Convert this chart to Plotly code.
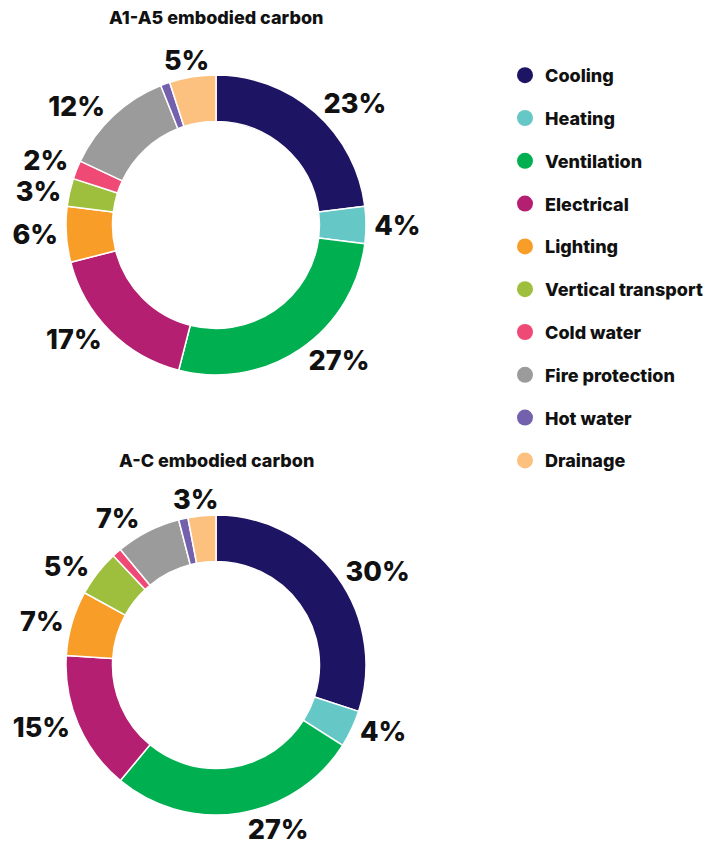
import plotly.graph_objects as go

categories = ["Cooling", "Heating", "Ventilation", "Electrical", "Lighting",
              "Vertical transport", "Cold water", "Fire protection", "Hot water", "Drainage"]
colors = ["#1d1464", "#66c8c6", "#00b050", "#b41f72", "#f89e28",
          "#9dbf3d", "#ef4a75", "#9b9b9b", "#7461ad", "#fdc17f"]
a1a5_values = [23, 4, 27, 17, 6, 3, 2, 12, 1, 5]
ac_values = [30, 4, 27, 15, 7, 5, 1, 7, 1, 3]
titles = ["A1-A5 embodied carbon", "A-C embodied carbon"]
# labels are split over text layers so neighbouring small labels are not pushed apart
label_layer = [0, 1, 0, 1, 0, 1, 2, 1, 1, 3]
layer_shift = {0: (0, 0), 1: (0, 0), 2: (0, -7), 3: (25, 0)}   # px nudges of each text layer

W, H = 710, 845   # page body has an 8px margin
OFF = 8
FONT = "Inter"

fig = go.Figure()

def domain(cx, cy, r):
    return dict(x=[(cx - r) / W, (cx + r) / W], y=[1 - (cy + r) / H, 1 - (cy - r) / H])

def add_pie(vals, cx, cy, r):
    cx -= OFF
    cy -= OFF
    fig.add_trace(go.Pie(
        labels=categories, values=vals, textinfo="none",
        marker=dict(colors=colors, line=dict(color="white", width=1.5)),
        hole=0.69, sort=False, direction="clockwise", rotation=0,
        showlegend=False, hoverinfo="label+percent", domain=domain(cx, cy, r),
    ))
    for layer, (dx, dy) in layer_shift.items():
        txt = [f"{v}%" if (v > 1 and label_layer[i] == layer) else "" for i, v in enumerate(vals)]
        if not any(txt):
            continue
        fig.add_trace(go.Pie(
            labels=categories, values=vals, text=txt,
            textinfo="text", textposition="outside",
            outsidetextfont=dict(family=FONT, size=27, color="#111111", weight=800),
            marker=dict(colors=["rgba(0,0,0,0)"] * len(vals), line=dict(width=0)),
            hole=0.69, sort=False, direction="clockwise", rotation=0,
            showlegend=False, hoverinfo="skip", domain=domain(cx + dx, cy + dy, r),
        ))

add_pie(a1a5_values, 216, 225, 150)
add_pie(ac_values, 216, 665, 150)

for cat, col in zip(categories, colors):
    fig.add_trace(go.Scatter(
        x=[None], y=[None], mode="markers", name=cat, legendgroup=cat,
        marker=dict(symbol="circle", size=17, color=col), showlegend=True,
    ))

for t, ty in zip(titles, [18, 460]):
    fig.add_annotation(text=t, x=(216 - OFF) / W, y=1 - (ty - OFF) / H, xref="paper", yref="paper",
                       xanchor="center", yanchor="middle", showarrow=False,
                       font=dict(family=FONT, size=18, color="#111111", weight=800))

fig.update_layout(
    width=W, height=H, margin=dict(l=0, r=0, t=0, b=0),
    paper_bgcolor="white", plot_bgcolor="white",
    xaxis=dict(visible=False), yaxis=dict(visible=False),
    legend=dict(x=(505 - OFF) / W, y=1 - (57 - OFF) / H, xanchor="left", yanchor="top",
                font=dict(family=FONT, size=18, color="#111111", weight=800),
                tracegroupgap=16.4, itemsizing="trace", bgcolor="rgba(0,0,0,0)"),
)

fig.write_html("out.html")
